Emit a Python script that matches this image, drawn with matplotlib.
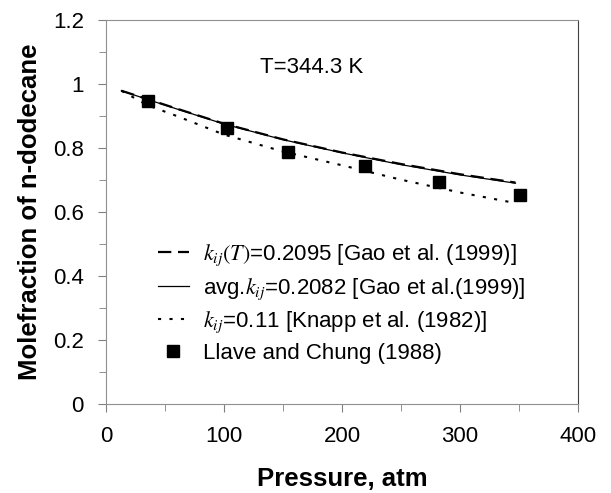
import numpy as np
import matplotlib.pyplot as plt

plt.rcParams['font.family'] = ['Liberation Sans', 'DejaVu Sans']
plt.rcParams['mathtext.fontset'] = 'stix'

# curvas calculadas (pressão em atm, fração molar)
P_calc = [13, 35, 60, 100, 150, 200, 250, 300, 347]
x_kT = [0.979, 0.953, 0.923, 0.876, 0.827, 0.786, 0.750, 0.718, 0.692]
x_avg = [0.979, 0.952, 0.922, 0.875, 0.826, 0.785, 0.748, 0.716, 0.690]
x_knapp = [0.979, 0.934, 0.900, 0.842, 0.789, 0.746, 0.701, 0.661, 0.628]

# dados experimentais
P_exp = [35.6, 102.8, 154.5, 219.5, 282.2, 351.1]
x_exp = [0.947, 0.864, 0.788, 0.744, 0.695, 0.652]

fig = plt.figure(figsize=(6.11, 4.93), dpi=100)
ax = fig.add_axes([0.1735, 0.1805, 0.7725, 0.7789])

ax.plot(P_calc, x_kT, color='k', lw=1.6, dashes=(6, 3),
        label='$k_{ij}(T)$=0.2095 [Gao et al. (1999)]')
ax.plot(P_calc, x_avg, color='k', lw=0.9,
        label='avg.$k_{ij}$=0.2082 [Gao et al.(1999)]')
ax.plot(P_calc, x_knapp, color='k', lw=1.5, dashes=(1.5, 4),
        label='$k_{ij}$=0.11 [Knapp et al. (1982)]')
ax.plot(P_exp, x_exp, 's', color='k', ms=8, ls='none',
        label='Llave and Chung (1988)')

ax.text(130.5, 1.053, 'T=344.3 K', fontsize=16, va='center', ha='left')

ax.set_xlim(0, 400)
ax.set_ylim(0, 1.2)
ax.set_xticks(np.arange(0, 401, 100))
ax.set_xticks(np.arange(50, 400, 100), minor=True)
ax.set_yticks(np.arange(0, 1.21, 0.2))
ax.set_yticks(np.arange(0.1, 1.2, 0.2), minor=True)
ax.set_yticklabels(['0', '0.2', '0.4', '0.6', '0.8', '1', '1.2'])
ax.tick_params(which='both', direction='out', colors='#808080',
               labelcolor='k', labelsize=16)
ax.tick_params(which='major', length=6, pad=10)
ax.tick_params(which='minor', length=5)
for s in ['left', 'bottom', 'top']:
    ax.spines[s].set_color('#909090')
ax.spines['right'].set_color('#404040')

ax.set_xlabel('Pressure, atm', fontsize=18.5, fontweight='bold', labelpad=14)
ax.set_ylabel('Molefraction of n-dodecane', fontsize=18.5, fontweight='bold', labelpad=8)

ax.legend(loc='upper left', bbox_to_anchor=(0.11, 0.42), frameon=False,
          fontsize=16, handlelength=1.4, handletextpad=0.65, labelspacing=0.35,
          borderaxespad=0, borderpad=0)

plt.savefig('out.png', dpi=100)
